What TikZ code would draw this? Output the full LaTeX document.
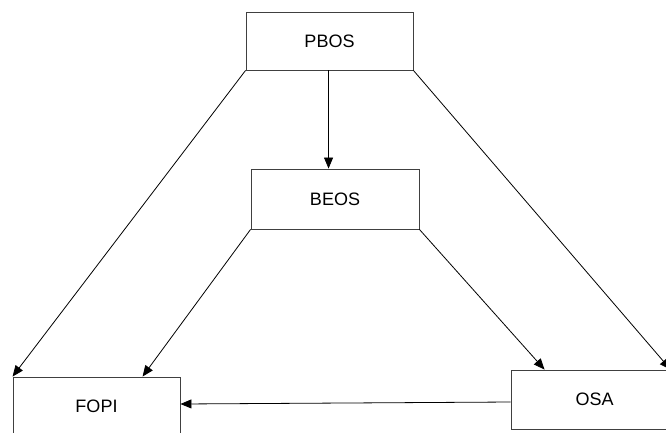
\documentclass[tikz,border=0pt]{standalone}
\usepackage{fontspec}
\setmainfont{Liberation Sans}
\usetikzlibrary{arrows.meta,calc}
\begin{document}
\begin{tikzpicture}[x=1pt,y=-1pt,
  box/.style={draw=black!75,line width=0.9pt,fill=white,minimum width=167pt,minimum height=58pt,inner sep=0pt,font=\fontsize{18}{20}\selectfont},
  arr/.style={line width=0.8pt,-{Triangle[length=11pt,width=9pt]}}]
\fill[white] (0,0) rectangle (666,432);
\useasboundingbox (0,0) rectangle (666,432);
\clip (0,0) rectangle (666,432);
\node[box] (pbos) at (329.5,41) {PBOS};
\node[box,minimum width=168pt,minimum height=60pt] (beos) at (335,199) {BEOS};
\node[box] (fopi) at (96.5,406) {FOPI};
\node[box,minimum height=59pt] (osa) at (594.5,399.5) {OSA};
\draw[arr] ($(pbos.south west)+(83,0)$) -- ($(beos.north west)+(78,0)$);
\draw[arr] (pbos.south west) -- (fopi.north west);
\draw[arr] (pbos.south east) -- ($(osa.north west)+(160,0)$);
\draw[arr] (beos.south west) -- ($(fopi.north west)+(130,0)$);
\draw[arr] (beos.south east) -- ($(osa.north west)+(34,0)$);
\draw[arr] ($(osa.west)+(0,2.5)$) -- ($(fopi.east)+(0,-2)$);
\end{tikzpicture}
\end{document}
